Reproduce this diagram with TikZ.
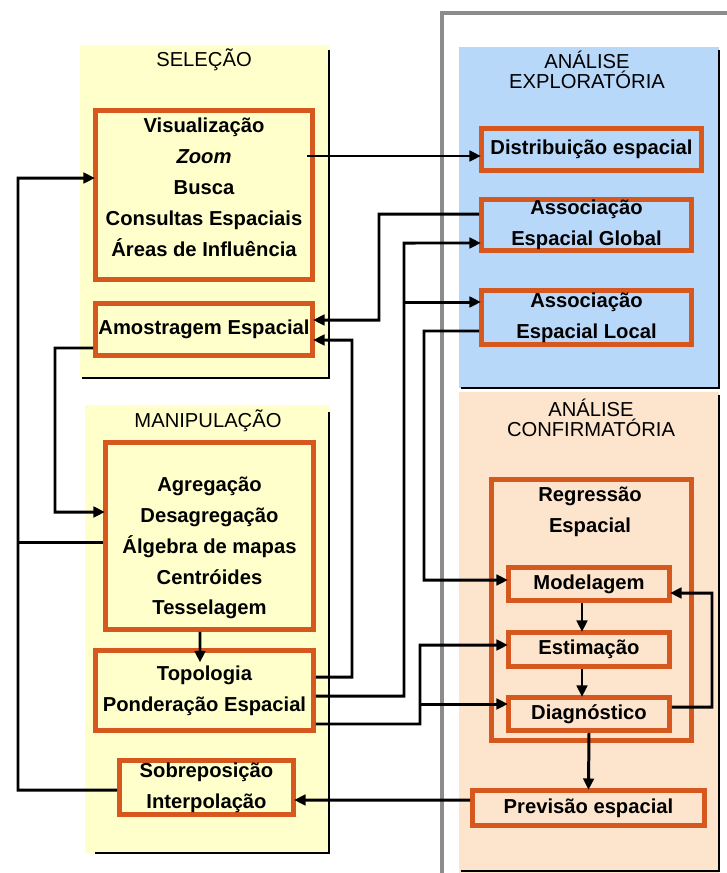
\documentclass[tikz,border=0pt]{standalone}
\usepackage{fontspec}
\setmainfont{Liberation Sans}
\usepackage{tikz}
\usetikzlibrary{arrows,arrows.meta}

\definecolor{selfill}{RGB}{255,255,204}
\definecolor{expfill}{RGB}{184,216,250}
\definecolor{confill}{RGB}{253,228,204}
\definecolor{boxline}{RGB}{214,88,30}
\definecolor{framegray}{RGB}{140,140,140}

\begin{document}
\begin{tikzpicture}[
x=0.02cm, y=-0.02cm,
obox/.style={draw=boxline, line width=2.7pt, inner sep=0pt, font=\bfseries\fontsize{11.5}{17.6}\selectfont, align=center},
txt/.style={inner sep=0pt, font=\bfseries\fontsize{11.5}{17.6}\selectfont, align=center},
ttl/.style={inner sep=0pt, font=\fontsize{11.5}{8.8}\selectfont, align=center},
shadow/.style={line width=1.1pt},
line/.style={line width=1.7pt},
arrow/.style={-{Triangle[length=6.5pt,width=6pt]}, line width=1.7pt, shorten >=-1pt} ]

\useasboundingbox (0,0) rectangle (727,873);

\fill[selfill] (80,45) rectangle (329,378);
\draw[shadow] (82,378) -- (329,378) -- (329,50);
\fill[selfill] (85,405) rectangle (329,853);
\draw[shadow] (95,853) -- (329,853) -- (329,412);
\fill[expfill] (459,47) rectangle (719,388);
\draw[shadow] (461,388) -- (719,388) -- (719,50);
\fill[confill] (459,392) rectangle (719,873);
\draw[shadow] (461,871) -- (719,871) -- (719,395);
\draw[framegray, line width=1.8pt] (442,873) -- (442,13) -- (727,13);

\node[ttl] (selt) at (204,60) {SELEÇÃO};
\node[ttl] (mant) at (208,421) {MANIPULAÇÃO};
\node[ttl] (expt) at (587,70) {ANÁLISE\\EXPLORATÓRIA};
\node[ttl] (cont) at (591,418) {ANÁLISE\\CONFIRMATÓRIA};

\node[obox, minimum width=4.34cm, minimum height=3.38cm] (vis) at (204,195) {};
\node[txt] (vist) at (204,187) {Visualização\\\textit{Zoom}\\Busca\\Consultas Espaciais\\Áreas de Influência};
\node[obox, minimum width=4.34cm, minimum height=1.04cm] (amo) at (204,329.5) {Amostragem Espacial};

\node[obox, minimum width=4.16cm, minimum height=3.74cm] (agr) at (209.5,536) {};
\node[txt] (agrt) at (209.5,548) {Agregação\\Desagregação\\Álgebra de mapas\\Centróides\\Tesselagem};
\node[obox, minimum width=4.36cm, minimum height=1.60cm] (top) at (204.5,690.5) {Topologia\\Ponderação Espacial};
\node[obox, minimum width=3.48cm, minimum height=1.08cm] (sob) at (206.5,787.5) {Sobreposição\\Interpolação};

\node[obox, minimum width=4.4cm, minimum height=0.84cm] (dis) at (591.5,149.5) {Distribuição espacial};
\node[obox, minimum width=4.2cm, minimum height=1.02cm] (glo) at (586.5,225) {Associação\\Espacial Global};
\node[obox, minimum width=4.2cm, minimum height=1.08cm] (loc) at (586.5,317.5) {Associação\\Espacial Local};

\node[obox, minimum width=4.0cm, minimum height=5.22cm] (reg) at (591.5,610) {};
\node[txt] (regt) at (590,512) {Regressão\\Espacial};
\node[obox, minimum width=3.22cm, minimum height=0.66cm] (mod) at (589,584) {Modelagem};
\node[obox, minimum width=3.22cm, minimum height=0.68cm] (est) at (589,649.5) {Estimação};
\node[obox, minimum width=3.22cm, minimum height=0.66cm] (dia) at (589,714) {Diagnóstico};
\node[obox, minimum width=4.64cm, minimum height=0.70cm] (pre) at (588.5,808) {Previsão espacial};

\coordinate (zm) at (307,156);
\coordinate (br1) at (404,302);
\coordinate (br2) at (420,704);
\coordinate (jn) at (18,542);

\draw[arrow] (zm) -- (zm -| dis.west);
\draw[arrow] ([yshift=0.22cm]glo.west) -| (379,320) -- ([yshift=0.19cm]amo.east);
\draw[arrow] ([yshift=0.27cm]top.east) -| (352,340) -- ([yshift=-0.21cm]amo.east);
\draw[arrow] ([yshift=-0.11cm]top.east) -| (404,243) -- ([yshift=-0.36cm]glo.west);
\draw[arrow] (br1) -- (br1 -| loc.west);
\draw[arrow] ([yshift=-0.27cm]loc.west) -| (424,580) -- ([yshift=0.08cm]mod.west);
\draw[arrow] ([yshift=-0.67cm]top.east) -| (420,645) -- ([yshift=0.09cm]est.west);
\draw[arrow] (br2) -- (br2 -| dia.west);
\draw[arrow] ([xshift=-0.14cm]mod.south) -- ([xshift=-0.14cm]est.north);
\draw[arrow] ([xshift=-0.14cm]est.south) -- ([xshift=-0.14cm]dia.north);
\draw[arrow] ([yshift=0.14cm]dia.east) -| (712,593) -- ([yshift=-0.18cm]mod.east);
\draw[arrow] (dia.south) -- (pre.north);
\draw[arrow] ([yshift=0.16cm]pre.west) -- ([yshift=-0.25cm]sob.east);
\draw[arrow] ([yshift=-0.05cm]sob.west) -| (18,178) -- ([yshift=0.34cm]vis.west);
\draw[line] (jn -| agr.west) -- (jn);
\draw[arrow] ([yshift=-0.37cm]amo.west) -| (55,512) -- ([yshift=0.48cm]agr.west);
\draw[arrow] ([xshift=-0.19cm]agr.south) -- ([xshift=-0.09cm,yshift=-0.25cm]top.north);

\end{tikzpicture}
\end{document}
